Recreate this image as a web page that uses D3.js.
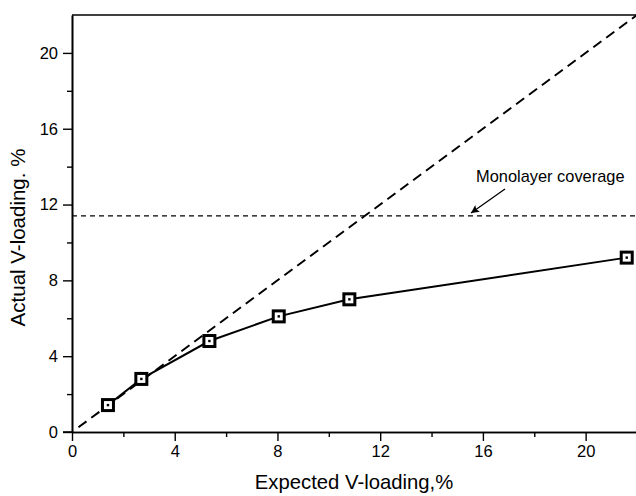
<!DOCTYPE html>
<html>
<head>
<meta charset="utf-8">
<script src="https://cdn.jsdelivr.net/npm/d3@7"></script>
<style>
  html, body { margin: 0; padding: 0; background: #fff; }
  svg { display: block; font-family: Arial, "Liberation Sans", sans-serif; }
</style>
</head>
<body>
<svg id="chart" width="636" height="496"></svg>
<script>
// Expected vs. actual vanadium loading
const expected = [1.4, 2.7, 5.35, 8.05, 10.8, 21.6];
const actual   = [1.42, 2.8, 4.8, 6.1, 7.0, 9.2];
const majorTicks = [0, 4, 8, 12, 16, 20];
const minorTicks = [2, 6, 10, 14, 18];
const monolayer = 11.4;
const identityLine = [0.25, 22];

const svg = d3.select("#chart");
const x = d3.scaleLinear().domain([0, 22]).range([72, 637]);
const y = d3.scaleLinear().domain([0, 22]).range([432, 15]);

// Axes with major and minor ticks
const xMajor = d3.axisBottom(x).tickValues(majorTicks).tickSize(9).tickSizeOuter(0).tickPadding(4);
const xMinor = d3.axisBottom(x).tickValues(minorTicks).tickSize(5).tickSizeOuter(0).tickFormat("");
const yMajor = d3.axisLeft(y).tickValues(majorTicks).tickSize(9).tickSizeOuter(0).tickPadding(5);
const yMinor = d3.axisLeft(y).tickValues(minorTicks).tickSize(5).tickSizeOuter(0).tickFormat("");

function styleAxis(g) {
  g.selectAll("path").attr("stroke", "#000").attr("stroke-width", 1.6);
  g.selectAll("line").attr("stroke", "#000").attr("stroke-width", 1.4);
  g.selectAll("text").attr("fill", "#000").style("font-size", "16.5px")
    .style("font-family", "Arial, 'Liberation Sans', sans-serif");
}

svg.append("g").attr("transform", `translate(0,${y(0)})`).call(xMajor).call(styleAxis);
svg.append("g").attr("transform", `translate(0,${y(0)})`).call(xMinor).call(styleAxis);
svg.append("g").attr("transform", `translate(${x(0)},0)`).call(yMajor).call(styleAxis);
svg.append("g").attr("transform", `translate(${x(0)},0)`).call(yMinor).call(styleAxis);

// Extend x-axis line slightly to the left like the y=0 tick
svg.append("line")
  .attr("x1", x(0) - 9).attr("x2", x(0))
  .attr("y1", y(0)).attr("y2", y(0))
  .attr("stroke", "#000").attr("stroke-width", 1.6);

// Top frame line
svg.append("line")
  .attr("x1", x(0)).attr("x2", 636)
  .attr("y1", y(22)).attr("y2", y(22))
  .attr("stroke", "#000").attr("stroke-width", 1.6);

// Monolayer coverage level
svg.append("line")
  .attr("x1", x(0)).attr("x2", 636)
  .attr("y1", y(monolayer)).attr("y2", y(monolayer))
  .attr("stroke", "#000").attr("stroke-width", 1.2)
  .attr("stroke-dasharray", "5,4");

// Identity line (actual = expected)
svg.append("line")
  .attr("x1", x(identityLine[0])).attr("y1", y(identityLine[0]))
  .attr("x2", x(identityLine[1])).attr("y2", y(identityLine[1]))
  .attr("stroke", "#000").attr("stroke-width", 2)
  .attr("stroke-dasharray", "10,6");

// Measured series
const pts = expected.map((e, i) => [e, actual[i]]);
svg.append("path")
  .datum(pts)
  .attr("fill", "none")
  .attr("stroke", "#000")
  .attr("stroke-width", 2)
  .attr("d", d3.line().x(d => x(d[0])).y(d => y(d[1])));

const m = svg.append("g").selectAll("g").data(pts).join("g")
  .attr("transform", d => `translate(${x(d[0])},${y(d[1])})`);
m.append("rect")
  .attr("x", -5.5).attr("y", -5.5).attr("width", 11).attr("height", 11)
  .attr("fill", "#fff").attr("stroke", "#000").attr("stroke-width", 3);
m.append("rect")
  .attr("x", -1.2).attr("y", -1.2).attr("width", 2.4).attr("height", 2.4)
  .attr("fill", "#000");

// Annotation
svg.append("defs").append("marker")
  .attr("id", "arrow").attr("viewBox", "0 0 10 10")
  .attr("refX", 10).attr("refY", 5)
  .attr("markerWidth", 12).attr("markerHeight", 8)
  .attr("markerUnits", "userSpaceOnUse")
  .attr("orient", "auto")
  .append("path").attr("d", "M0,0 L10,5 L0,10 L2,5 Z").attr("fill", "#000");

svg.append("line")
  .attr("x1", 505).attr("y1", 189)
  .attr("x2", 471).attr("y2", 213)
  .attr("stroke", "#000").attr("stroke-width", 1.3)
  .attr("marker-end", "url(#arrow)");

svg.append("text")
  .attr("x", 476).attr("y", 182)
  .style("font-size", "16.4px")
  .text("Monolayer coverage");

// Axis titles
svg.append("text")
  .attr("x", 354).attr("y", 489)
  .attr("text-anchor", "middle")
  .style("font-size", "20.3px")
  .text("Expected V-loading,%");

svg.append("text")
  .attr("transform", `translate(25,${237.5}) rotate(-90)`)
  .attr("text-anchor", "middle")
  .style("font-size", "20.5px")
  .text("Actual V-loading. %");
</script>
</body>
</html>
